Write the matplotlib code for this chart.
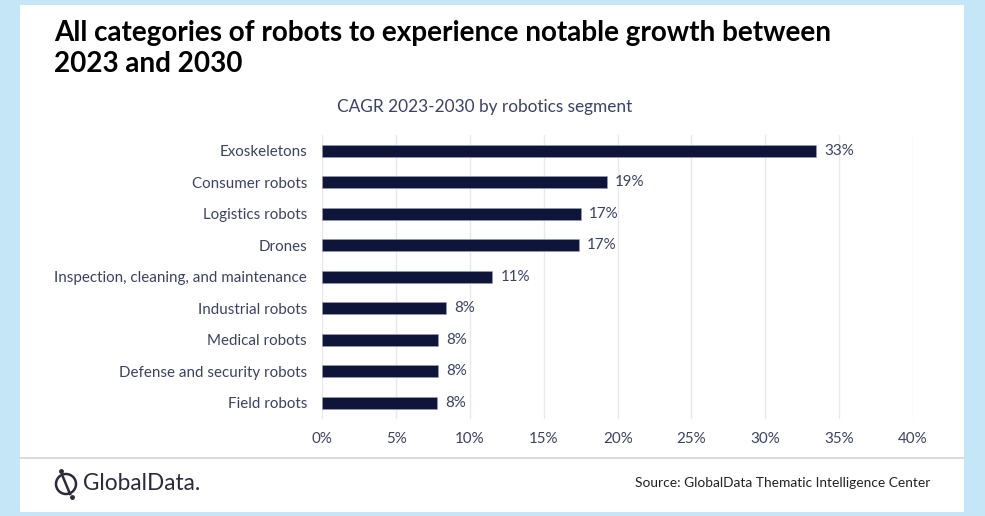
import matplotlib
matplotlib.use("Agg")
import matplotlib.pyplot as plt
from matplotlib.patches import Rectangle, Ellipse
from matplotlib.lines import Line2D

# ---- data ----
categories = ["Exoskeletons", "Consumer robots", "Logistics robots", "Drones",
              "Inspection, cleaning, and maintenance", "Industrial robots",
              "Medical robots", "Defense and security robots", "Field robots"]
cagr = [33.45, 19.25, 17.5, 17.35, 11.5, 8.35, 7.85, 7.85, 7.75]
value_labels = ["33%", "19%", "17%", "17%", "11%", "8%", "8%", "8%", "8%"]
xticks = [0, 5, 10, 15, 20, 25, 30, 35, 40]
xtick_labels = ["0%", "5%", "10%", "15%", "20%", "25%", "30%", "35%", "40%"]
title = "All categories of robots to experience notable growth between\n2023 and 2030"
subtitle = "CAGR 2023-2030 by robotics segment"
source = "Source: GlobalData Thematic Intelligence Center"
logo = "GlobalData."

W, H = 985, 516
fig = plt.figure(figsize=(W / 100, H / 100), dpi=100)
fig.patch.set_facecolor("#c4e6f6")

def fx(px):
    return px / W

def fy(py):
    return 1 - py / H

# white panel
fig.patches.append(Rectangle((fx(20), fy(512)), fx(964) - fx(20), fy(5) - fy(512),
                             transform=fig.transFigure, facecolor="white",
                             edgecolor="none", zorder=-5))
# divider
fig.lines.append(Line2D([fx(20), fx(964)], [fy(457.5), fy(457.5)],
                        transform=fig.transFigure, color="#d4d4d4", lw=1.2))

FONT = "Lato"
label_color = "#3b4266"
bar_color = "#0e1539"

renderer = fig.canvas.get_renderer()

def fit(t, target_w):
    bb = t.get_window_extent(renderer)
    t.set_fontsize(t.get_fontsize() * target_w / bb.width)

# title
t1 = fig.text(fx(54), fy(41), title.split("\n")[0], fontsize=16, fontweight="bold",
              family=FONT, color="black", ha="left", va="baseline")
fit(t1, 781)
t2 = fig.text(fx(54), fy(72), title.split("\n")[1], fontsize=t1.get_fontsize(),
              fontweight="bold", family=FONT, color="black", ha="left", va="baseline")

# subtitle
st = fig.text(fx(484.5), fy(107), subtitle, fontsize=11, family=FONT,
              color=label_color, ha="center", va="center")
fit(st, 295)

# axes
ax = fig.add_axes([fx(322.3), fy(418.5), fx(913) - fx(322.3), fy(135) - fy(418.5)])
ax.set_facecolor("none")
ax.set_zorder(2)
ypos = list(range(len(categories)))
ax.barh(ypos, cagr, height=0.37, color=bar_color, edgecolor="#9aa0bb",
        linewidth=0.4, zorder=3)
ax.set_ylim(len(categories) - 0.5, -0.5)
ax.set_xlim(0, 40)
ax.set_xticks(xticks)
ax.set_xticklabels(xtick_labels)
ax.set_yticks(ypos)
ax.set_yticklabels(categories)
ax.grid(axis="x", color="#e9e9ec", lw=1, zorder=0)
ax.set_axisbelow(True)
for s in ax.spines.values():
    s.set_visible(False)
ax.tick_params(axis="both", length=0, colors=label_color, labelsize=10)
ax.tick_params(axis="x", pad=10)
ax.tick_params(axis="y", pad=11)
for lab in ax.get_xticklabels() + ax.get_yticklabels():
    lab.set_family(FONT)
    lab.set_color(label_color)

# fit y labels on the widest label
longest = ax.get_yticklabels()[4]
bb = longest.get_window_extent(renderer)
scale = 252 / bb.width
for lab in ax.get_yticklabels() + ax.get_xticklabels():
    lab.set_fontsize(10 * scale)

for y, v, lbl in zip(ypos, cagr, value_labels):
    ax.annotate(lbl, (v, y), xytext=(6, 0), textcoords="offset points",
                ha="left", va="center", fontsize=10 * scale, family=FONT,
                color=label_color)

# source
sc = fig.text(fx(930), fy(483), source, fontsize=10, family=FONT, color="#222222",
              ha="right", va="center")
fit(sc, 295)

# logo
lg = fig.text(fx(83), fy(484), logo, fontsize=14, family=FONT, color="#2c2b3c",
              ha="left", va="center")
fit(lg, 118)
cx, cy, r = 66, 484, 10
fig.patches.append(Ellipse((fx(cx), fy(cy)), 2 * r / W, 2 * r / H,
                           transform=fig.transFigure, fill=False,
                           edgecolor="#2c2b3c", lw=1.8))
fig.lines.append(Line2D([fx(cx - 3), fx(cx + 4)], [fy(cy - 7), fy(cy + 10)],
                        transform=fig.transFigure, color="#2c2b3c", lw=1.8))
fig.lines.append(Line2D([fx(cx - 5), fx(cx + 6)], [fy(cy - 13), fy(cy + 13)],
                        transform=fig.transFigure, color="#2c2b3c", lw=0,
                        marker="o", markersize=2.5, linestyle="none"))

fig.savefig("out.png", dpi=100, facecolor=fig.get_facecolor())
